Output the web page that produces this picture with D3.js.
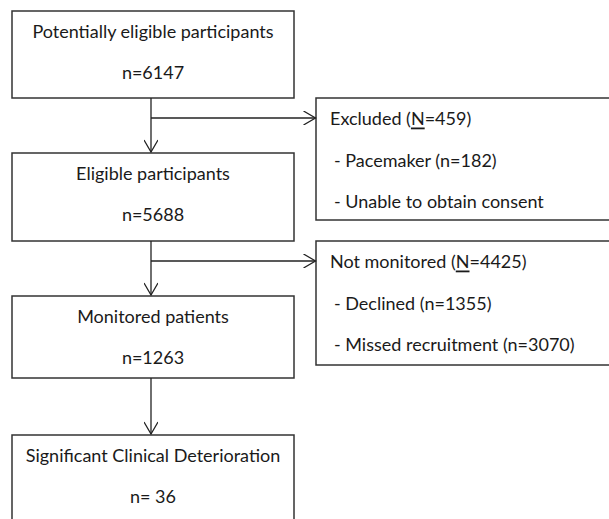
<!DOCTYPE html>
<html><head><meta charset="utf-8">
<script src="https://cdn.jsdelivr.net/npm/d3@7"></script>
<style>html,body{margin:0;padding:0;background:#fff;} svg{display:block;}</style>
</head><body>
<div id="chart"></div>
<script>
// ---- data ----
const mainLabels = ["Potentially eligible participants", "Eligible participants", "Monitored patients", "Significant Clinical Deterioration"];
const mainCounts = ["n=6147", "n=5688", "n=1263", "n= 36"];
const sideHeads = ["Excluded", "Not monitored"];
const sideTotals = [459, 4425];
const sideItems = [["- Pacemaker (n=182)", "- Unable to obtain consent"], ["- Declined (n=1355)", "- Missed recruitment (n=3070)"]];

// ---- layout ----
const W = 609, H = 519;
const FONT = "Lato, 'Open Sans', sans-serif";
const FS = 18;
const stroke = "#333";
const mainX = 12, mainW = 282;
const mainTop = [11, 153, 296, 435];
const mainH = [87, 88, 82, 95];
const sideX = 316, sideW = 300;
const sideTop = [98, 241];
const sideH = [122, 124];
const stemX = 151;
const branchY = [118, 261];

const svg = d3.select("#chart").append("svg").attr("width", W).attr("height", H);

svg.append("defs").append("marker")
  .attr("id", "arr").attr("viewBox", "0 0 14 14").attr("refX", 13).attr("refY", 7)
  .attr("markerWidth", 14).attr("markerHeight", 14).attr("markerUnits", "userSpaceOnUse")
  .attr("orient", "auto")
  .append("path").attr("d", "M1,0 L13,7 L1,14").attr("fill", "none").attr("stroke", "#222").attr("stroke-width", 1.3);

// main boxes
const mg = svg.selectAll("g.main").data(mainLabels).join("g").attr("class", "main");
mg.append("rect")
  .attr("x", mainX).attr("y", (d, i) => mainTop[i])
  .attr("width", mainW).attr("height", (d, i) => mainH[i])
  .attr("fill", "#fff").attr("stroke", stroke).attr("stroke-width", 1.5);
mg.append("text")
  .attr("x", mainX + mainW / 2).attr("y", (d, i) => mainTop[i] + 20)
  .attr("text-anchor", "middle").attr("dominant-baseline", "central")
  .attr("font-family", FONT).attr("font-size", FS).attr("fill", "#1a1a1a")
  .text(d => d);
mg.append("text")
  .attr("x", mainX + mainW / 2).attr("y", (d, i) => mainTop[i] + 61)
  .attr("text-anchor", "middle").attr("dominant-baseline", "central")
  .attr("font-family", FONT).attr("font-size", FS).attr("fill", "#1a1a1a")
  .text((d, i) => mainCounts[i]);

// vertical arrows
for (let i = 0; i < mainLabels.length - 1; i++) {
  svg.append("line")
    .attr("x1", stemX).attr("y1", mainTop[i] + mainH[i])
    .attr("x2", stemX).attr("y2", mainTop[i + 1] - 1)
    .attr("stroke", "#222").attr("stroke-width", 1.3)
    .attr("marker-end", "url(#arr)");
}

// side boxes
const sg = svg.selectAll("g.side").data(sideHeads).join("g").attr("class", "side");
sg.append("rect")
  .attr("x", sideX).attr("y", (d, i) => sideTop[i])
  .attr("width", sideW).attr("height", (d, i) => sideH[i])
  .attr("fill", "#fff").attr("stroke", stroke).attr("stroke-width", 1.5);
sg.each(function (d, i) {
  const g = d3.select(this);
  const t = g.append("text")
    .attr("x", sideX + 14).attr("y", sideTop[i] + 19.5)
    .attr("dominant-baseline", "central")
    .attr("font-family", FONT).attr("font-size", FS).attr("fill", "#1a1a1a");
  t.append("tspan").text(d + " (");
  t.append("tspan").attr("text-decoration", "underline").text("N");
  t.append("tspan").text("=" + sideTotals[i] + ")");
  sideItems[i].forEach((it, j) => {
    g.append("text")
      .attr("x", sideX + 18).attr("y", sideTop[i] + 62 + j * 40.5)
      .attr("dominant-baseline", "central")
      .attr("font-family", FONT).attr("font-size", FS).attr("fill", "#1a1a1a")
      .text(it);
  });
});

// branch arrows
branchY.forEach(y => {
  svg.append("line")
    .attr("x1", stemX).attr("y1", y).attr("x2", sideX - 0.5).attr("y2", y)
    .attr("stroke", "#222").attr("stroke-width", 1.3)
    .attr("marker-end", "url(#arr)");
});
</script>
</body></html>
